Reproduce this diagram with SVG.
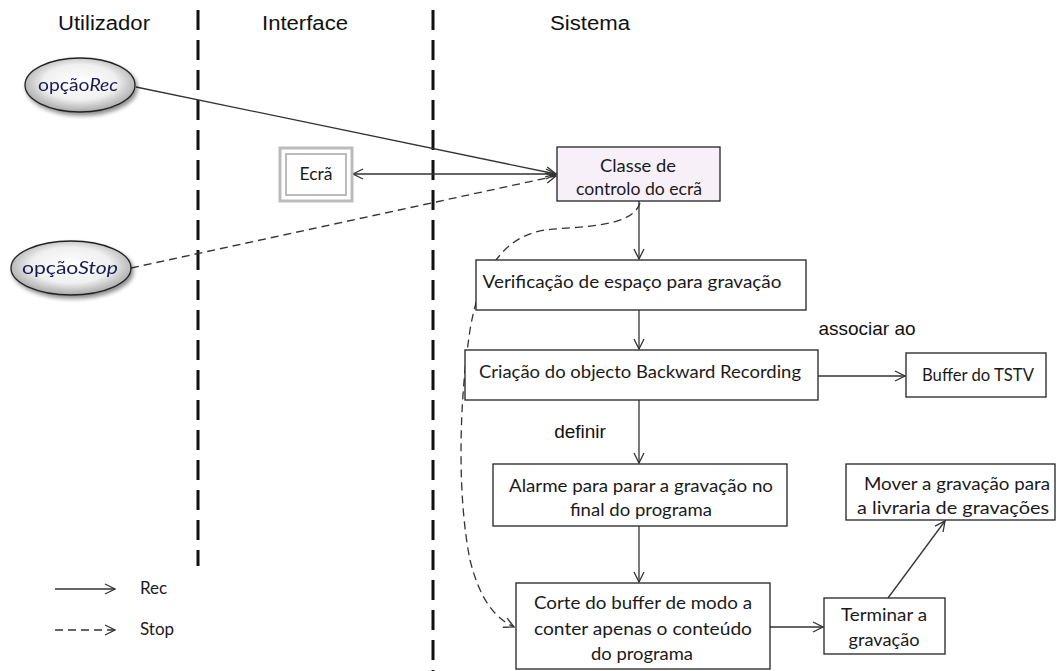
<svg xmlns="http://www.w3.org/2000/svg" width="1057" height="671" viewBox="0 0 1057 671">
<style>
  .hdr { font-family: "Liberation Sans", Arial, sans-serif; font-size: 20px; fill: #111; }
  .lbl { font-family: "Liberation Sans", Arial, sans-serif; font-size: 19px; fill: #111; }
  .box { fill: #fff; stroke: #222; stroke-width: 1.3; }
  .bt { font-family: Lato, "Open Sans", "Liberation Sans", sans-serif; font-size: 17px; fill: #1a1a1a; text-anchor: middle; }
  .et { font-family: Lato, "Open Sans", "Liberation Sans", sans-serif; font-size: 18px; fill: #1a1a50; text-anchor: middle; }
  .lane { stroke: #111; stroke-width: 3; stroke-dasharray: 20 10; fill: none; }
  .c { stroke: #333; stroke-width: 1.3; fill: none; }
  .d { stroke-dasharray: 8 5; }
</style>
<defs>
  <marker id="ah" viewBox="0 0 12 12" refX="11" refY="6" markerWidth="12" markerHeight="12" markerUnits="userSpaceOnUse" orient="auto-start-reverse">
    <path d="M1,1 L11,6 L1,11" fill="none" stroke="#333" stroke-width="1.3"/>
  </marker>
  <radialGradient id="eg" cx="50%" cy="45%" r="55%">
    <stop offset="0%" stop-color="#ffffff"/>
    <stop offset="60%" stop-color="#f0f0f0"/>
    <stop offset="100%" stop-color="#a8a8a8"/>
  </radialGradient>
  <filter id="sh" x="-20%" y="-20%" width="150%" height="160%">
    <feGaussianBlur in="SourceAlpha" stdDeviation="2"/>
    <feOffset dx="2" dy="3"/>
    <feComponentTransfer><feFuncA type="linear" slope="0.45"/></feComponentTransfer>
    <feMerge><feMergeNode/><feMergeNode in="SourceGraphic"/></feMerge>
  </filter>
</defs>
<rect width="1057" height="671" fill="#fff"/>

<g id="lanes">
  <line class="lane" x1="198" y1="10" x2="198" y2="566"/>
  <line class="lane" x1="433" y1="10" x2="433" y2="671"/>
  <text class="hdr" x="104" y="30" text-anchor="middle" textLength="92" lengthAdjust="spacingAndGlyphs">Utilizador</text>
  <text class="hdr" x="305" y="30" text-anchor="middle" textLength="86" lengthAdjust="spacingAndGlyphs">Interface</text>
  <text class="hdr" x="590" y="30" text-anchor="middle" textLength="80" lengthAdjust="spacingAndGlyphs">Sistema</text>
</g>

<g id="connectors">
  <line class="c" x1="136" y1="87" x2="556" y2="174" marker-end="url(#ah)"/>
  <line class="c" x1="353" y1="174" x2="556" y2="174" marker-start="url(#ah)" marker-end="url(#ah)"/>
  <line class="c d" x1="131" y1="268" x2="556" y2="176" marker-end="url(#ah)"/>
  <line class="c" x1="639" y1="201" x2="639" y2="259" marker-end="url(#ah)"/>
  <line class="c" x1="639" y1="310" x2="639" y2="349" marker-end="url(#ah)"/>
  <line class="c" x1="818" y1="376" x2="905" y2="376" marker-end="url(#ah)"/>
  <line class="c" x1="639" y1="400" x2="639" y2="463" marker-end="url(#ah)"/>
  <line class="c" x1="639" y1="526" x2="639" y2="582" marker-end="url(#ah)"/>
  <line class="c" x1="770" y1="627" x2="823" y2="627" marker-end="url(#ah)"/>
  <line class="c" x1="888" y1="598" x2="945" y2="521" marker-end="url(#ah)"/>
  <path class="c d" d="M640,203 C632,228 580,226 545,230 C505,236 480,270 470,330 C458,410 458,500 470,560 C480,600 495,618 514,627" marker-end="url(#ah)"/>
  <text class="lbl" x="867" y="335" text-anchor="middle">associar ao</text>
  <text class="lbl" x="580" y="438" text-anchor="middle">definir</text>
</g>

<g id="opcaoRec" filter="url(#sh)">
  <ellipse cx="80" cy="85" rx="55" ry="27" fill="url(#eg)" stroke="#222" stroke-width="1.3"/>
  <text class="et" x="78" y="91" textLength="80" lengthAdjust="spacingAndGlyphs">opção<tspan font-style="italic">Rec</tspan></text>
</g>
<g id="opcaoStop" filter="url(#sh)">
  <ellipse cx="71" cy="268" rx="60" ry="27" fill="url(#eg)" stroke="#222" stroke-width="1.3"/>
  <text class="et" x="70" y="274" textLength="96" lengthAdjust="spacingAndGlyphs">opção<tspan font-style="italic">Stop</tspan></text>
</g>

<g id="ecra">
  <rect x="280" y="148" width="72" height="53" fill="#fff" stroke="#bbb" stroke-width="3"/>
  <rect x="286" y="154" width="60" height="41" fill="#fff" stroke="#bbb" stroke-width="2"/>
  <text class="bt" x="316" y="180" textLength="33" lengthAdjust="spacingAndGlyphs">Ecrã</text>
</g>

<g id="classe">
  <rect class="box" x="557" y="147" width="163" height="54" style="fill:#f8f0f8"/>
  <text class="bt" x="638" y="172" textLength="76" lengthAdjust="spacingAndGlyphs">Classe de</text>
  <text class="bt" x="639" y="195" textLength="126" lengthAdjust="spacingAndGlyphs">controlo do ecrã</text>
</g>

<g id="verificacao">
  <rect class="box" x="476" y="260" width="330" height="50"/>
  <text class="bt" x="632" y="288" textLength="299" lengthAdjust="spacingAndGlyphs">Verificação de espaço para gravação</text>
</g>

<g id="criacao">
  <rect class="box" x="465" y="350" width="353" height="50"/>
  <text class="bt" x="640" y="378" textLength="322" lengthAdjust="spacingAndGlyphs">Criação do objecto Backward Recording</text>
</g>

<g id="buffer">
  <rect class="box" x="906" y="353" width="140" height="44"/>
  <text class="bt" x="978" y="381" textLength="112" lengthAdjust="spacingAndGlyphs">Buffer do TSTV</text>
</g>

<g id="alarme">
  <rect class="box" x="493" y="464" width="294" height="62"/>
  <text class="bt" x="641" y="492" textLength="264" lengthAdjust="spacingAndGlyphs">Alarme para parar a gravação no</text>
  <text class="bt" x="641" y="516" textLength="142" lengthAdjust="spacingAndGlyphs">final do programa</text>
</g>

<g id="mover">
  <rect class="box" x="846" y="464" width="209" height="56"/>
  <text class="bt" x="957" y="490" textLength="186" lengthAdjust="spacingAndGlyphs">Mover a gravação para</text>
  <text class="bt" x="953" y="514" textLength="192" lengthAdjust="spacingAndGlyphs">a livraria  de gravações</text>
</g>

<g id="corte">
  <rect class="box" x="516" y="583" width="254" height="86"/>
  <text class="bt" x="643" y="609" textLength="218" lengthAdjust="spacingAndGlyphs">Corte do buffer de modo a</text>
  <text class="bt" x="643" y="635" textLength="218" lengthAdjust="spacingAndGlyphs">conter apenas o conteúdo</text>
  <text class="bt" x="642" y="660" textLength="102" lengthAdjust="spacingAndGlyphs">do programa</text>
</g>

<g id="terminar">
  <rect class="box" x="824" y="598" width="121" height="56"/>
  <text class="bt" x="884" y="621" textLength="86" lengthAdjust="spacingAndGlyphs">Terminar a</text>
  <text class="bt" x="884" y="646" textLength="71" lengthAdjust="spacingAndGlyphs">gravação</text>
</g>

<g id="legend">
  <line class="c" x1="55" y1="589" x2="115" y2="589" marker-end="url(#ah)"/>
  <line class="c d" x1="55" y1="630" x2="115" y2="630" marker-end="url(#ah)"/>
  <text class="bt" x="140" y="594" style="text-anchor:start">Rec</text>
  <text class="bt" x="140" y="635" style="text-anchor:start">Stop</text>
</g>
</svg>
